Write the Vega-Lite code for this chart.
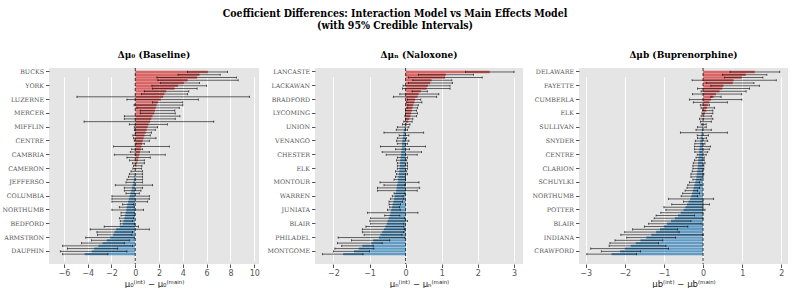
{
  "$schema": "https://vega.github.io/schema/vega-lite/v6.json",
  "padding": {"left": 2, "top": 9, "right": 0, "bottom": 0},
  "bounds": "flush",
  "title": {
    "text": ["Coefficient Differences: Interaction Model vs Main Effects Model", "(with 95% Credible Intervals)"],
    "font": "DejaVu Serif Condensed",
    "fontSize": 10.5,
    "fontWeight": "bold",
    "lineHeight": 12,
    "anchor": "middle",
    "offset": 19,
    "color": "black"
  },
  "datasets": {
    "p1": [
      {"county":"BUCKS","diff":6.1,"lo":4.4,"hi":7.76},
      {"county":"ADAMS","diff":5.4,"lo":3.6,"hi":7.14},
      {"county":"ALLEGHEN","diff":5.2,"lo":1.82,"hi":8.5},
      {"county":"BEAVER","diff":4.4,"lo":1.9,"hi":8.65},
      {"county":"BERKS","diff":4.1,"lo":2.1,"hi":5.4},
      {"county":"YORK","diff":3.6,"lo":1.4,"hi":6.0},
      {"county":"BLAIR","diff":3.3,"lo":1.46,"hi":5.2},
      {"county":"BRADFORD","diff":2.6,"lo":0.76,"hi":4.5},
      {"county":"BUTLER","diff":2.45,"lo":0.53,"hi":4.4},
      {"county":"CARBON","diff":2.35,"lo":-4.9,"hi":9.6},
      {"county":"LUZERNE","diff":2.15,"lo":-0.7,"hi":5.3},
      {"county":"CHESTER","diff":1.9,"lo":1.46,"hi":4.0},
      {"county":"CLARION","diff":1.8,"lo":-0.1,"hi":4.0},
      {"county":"CLEARFIE","diff":1.72,"lo":0.14,"hi":3.7},
      {"county":"CLINTON","diff":1.66,"lo":0.42,"hi":3.33},
      {"county":"MERCER","diff":1.6,"lo":0.42,"hi":3.36},
      {"county":"CRAWFORD","diff":1.45,"lo":-0.92,"hi":3.75},
      {"county":"CUMBERLA","diff":1.35,"lo":-0.92,"hi":3.36},
      {"county":"DELAWARE","diff":1.25,"lo":-4.3,"hi":6.6},
      {"county":"ELK","diff":1.12,"lo":-0.5,"hi":2.7},
      {"county":"MIFFLIN","diff":1.04,"lo":-0.08,"hi":1.88},
      {"county":"ERIE","diff":0.95,"lo":-0.08,"hi":1.68},
      {"county":"FAYETTE","diff":0.88,"lo":0.0,"hi":1.37},
      {"county":"FOREST","diff":0.78,"lo":-0.2,"hi":1.26},
      {"county":"FRANKLIN","diff":0.7,"lo":-0.14,"hi":1.74},
      {"county":"CENTRE","diff":0.62,"lo":-0.08,"hi":1.18},
      {"county":"FULTON","diff":0.57,"lo":0.06,"hi":0.76},
      {"county":"GREENE","diff":0.52,"lo":-1.82,"hi":2.86},
      {"county":"HUNTINGD","diff":0.46,"lo":-0.3,"hi":0.62},
      {"county":"INDIANA","diff":0.4,"lo":-0.42,"hi":1.18},
      {"county":"CAMBRIA","diff":0.34,"lo":-1.76,"hi":2.52},
      {"county":"JUNIATA","diff":0.28,"lo":-0.7,"hi":1.26},
      {"county":"LACKAWAN","diff":0.22,"lo":-0.48,"hi":0.76},
      {"county":"LANCASTE","diff":0.16,"lo":-0.22,"hi":0.76},
      {"county":"LAWRENCE","diff":0.1,"lo":-0.14,"hi":0.56},
      {"county":"CAMERON","diff":0.05,"lo":-0.2,"hi":0.53},
      {"county":"LEBANON","diff":0.02,"lo":-0.36,"hi":0.62},
      {"county":"LEHIGH","diff":-0.03,"lo":-0.5,"hi":0.62},
      {"county":"LYCOMING","diff":-0.08,"lo":-0.56,"hi":0.62},
      {"county":"MCKEAN","diff":-0.12,"lo":-0.7,"hi":0.62},
      {"county":"JEFFERSO","diff":-0.17,"lo":-0.78,"hi":0.62},
      {"county":"MONROE","diff":-0.22,"lo":-1.68,"hi":1.46},
      {"county":"MONTGOME","diff":-0.28,"lo":-0.92,"hi":0.62},
      {"county":"MONTOUR","diff":-0.33,"lo":-0.92,"hi":0.48},
      {"county":"NORTHAMP","diff":-0.4,"lo":-0.78,"hi":0.34},
      {"county":"COLUMBIA","diff":-0.47,"lo":-1.96,"hi":1.18},
      {"county":"PERRY","diff":-0.54,"lo":-1.96,"hi":1.18},
      {"county":"PHILADEL","diff":-0.6,"lo":-1.96,"hi":1.04},
      {"county":"PIKE","diff":-0.66,"lo":-1.06,"hi":-0.14},
      {"county":"POTTER","diff":-0.72,"lo":-1.34,"hi":-0.08},
      {"county":"NORTHUMB","diff":-0.75,"lo":-1.96,"hi":0.7},
      {"county":"SCHUYLKI","diff":-0.8,"lo":-1.2,"hi":-0.08},
      {"county":"SNYDER","diff":-0.86,"lo":-1.2,"hi":-0.08},
      {"county":"SOMERSET","diff":-0.92,"lo":-1.34,"hi":-0.14},
      {"county":"SULLIVAN","diff":-0.98,"lo":-1.26,"hi":-0.22},
      {"county":"BEDFORD","diff":-1.06,"lo":-1.26,"hi":-0.08},
      {"county":"SUSQUEHA","diff":-1.3,"lo":-2.61,"hi":0.28},
      {"county":"TIOGA","diff":-1.6,"lo":-3.78,"hi":1.18},
      {"county":"UNION","diff":-1.75,"lo":-3.22,"hi":-0.22},
      {"county":"VENANGO","diff":-1.85,"lo":-3.17,"hi":-0.28},
      {"county":"ARMSTRON","diff":-2.1,"lo":-4.16,"hi":-0.08},
      {"county":"WARREN","diff":-2.4,"lo":-3.67,"hi":-0.5},
      {"county":"WASHINGT","diff":-2.75,"lo":-4.51,"hi":-0.92},
      {"county":"WAYNE","diff":-3.1,"lo":-6.1,"hi":-0.22},
      {"county":"WESTMORE","diff":-3.45,"lo":-5.7,"hi":-1.48},
      {"county":"DAUPHIN","diff":-3.65,"lo":-6.3,"hi":-0.7},
      {"county":"WYOMING","diff":-4.25,"lo":-6.1,"hi":-2.3}
    ],
    "p2": [
      {"county":"LANCASTE","diff":2.33,"lo":1.66,"hi":3.0},
      {"county":"YORK","diff":1.11,"lo":0.36,"hi":1.88},
      {"county":"WYOMING","diff":1.09,"lo":0.08,"hi":2.12},
      {"county":"WESTMORE","diff":0.72,"lo":0.2,"hi":1.28},
      {"county":"WAYNE","diff":0.68,"lo":0.08,"hi":1.3},
      {"county":"LACKAWAN","diff":0.62,"lo":-0.07,"hi":1.23},
      {"county":"WASHINGT","diff":0.58,"lo":-0.09,"hi":1.23},
      {"county":"TIOGA","diff":0.42,"lo":0.18,"hi":0.6},
      {"county":"SUSQUEHA","diff":0.36,"lo":-0.16,"hi":0.92},
      {"county":"SULLIVAN","diff":0.33,"lo":-0.34,"hi":0.86},
      {"county":"BRADFORD","diff":0.26,"lo":0.05,"hi":0.42},
      {"county":"SOMERSET","diff":0.24,"lo":0.03,"hi":0.45},
      {"county":"SNYDER","diff":0.21,"lo":0.06,"hi":0.35},
      {"county":"SCHUYLKI","diff":0.19,"lo":0.04,"hi":0.33},
      {"county":"POTTER","diff":0.17,"lo":0.0,"hi":0.3},
      {"county":"LYCOMING","diff":0.15,"lo":0.0,"hi":0.33},
      {"county":"PIKE","diff":0.13,"lo":-0.02,"hi":0.3},
      {"county":"PERRY","diff":0.1,"lo":0.0,"hi":0.2},
      {"county":"NORTHUMB","diff":0.07,"lo":-0.05,"hi":0.18},
      {"county":"NORTHAMP","diff":0.03,"lo":-0.09,"hi":0.12},
      {"county":"UNION","diff":-0.03,"lo":-0.23,"hi":0.09},
      {"county":"MONROE","diff":-0.05,"lo":-0.26,"hi":0.05},
      {"county":"MIFFLIN","diff":-0.06,"lo":-0.6,"hi":0.5},
      {"county":"MERCER","diff":-0.07,"lo":-0.18,"hi":0.09},
      {"county":"MCKEAN","diff":-0.08,"lo":-0.23,"hi":0.02},
      {"county":"VENANGO","diff":-0.09,"lo":-0.25,"hi":0.09},
      {"county":"LUZERNE","diff":-0.1,"lo":-0.23,"hi":0.05},
      {"county":"LEHIGH","diff":-0.105,"lo":-0.7,"hi":0.55},
      {"county":"LEBANON","diff":-0.11,"lo":-0.28,"hi":0.11},
      {"county":"LAWRENCE","diff":-0.12,"lo":-0.65,"hi":0.44},
      {"county":"CHESTER","diff":-0.13,"lo":-0.54,"hi":0.32},
      {"county":"JEFFERSO","diff":-0.14,"lo":-0.23,"hi":0.05},
      {"county":"INDIANA","diff":-0.15,"lo":-0.25,"hi":0.03},
      {"county":"HUNTINGD","diff":-0.155,"lo":-0.23,"hi":0.05},
      {"county":"GREENE","diff":-0.16,"lo":-0.23,"hi":0.05},
      {"county":"ELK","diff":-0.17,"lo":-0.23,"hi":0.05},
      {"county":"FULTON","diff":-0.18,"lo":-0.28,"hi":0.03},
      {"county":"FRANKLIN","diff":-0.19,"lo":-0.25,"hi":0.05},
      {"county":"FOREST","diff":-0.2,"lo":-0.28,"hi":0.0},
      {"county":"FAYETTE","diff":-0.21,"lo":-0.32,"hi":0.0},
      {"county":"MONTOUR","diff":-0.22,"lo":-0.71,"hi":0.37},
      {"county":"ERIE","diff":-0.24,"lo":-0.6,"hi":-0.02},
      {"county":"DELAWARE","diff":-0.25,"lo":-0.78,"hi":0.39},
      {"county":"DAUPHIN","diff":-0.26,"lo":-0.78,"hi":0.32},
      {"county":"CUMBERLA","diff":-0.28,"lo":-0.32,"hi":-0.02},
      {"county":"WARREN","diff":-0.3,"lo":-0.37,"hi":-0.07},
      {"county":"CRAWFORD","diff":-0.32,"lo":-0.42,"hi":-0.05},
      {"county":"COLUMBIA","diff":-0.34,"lo":-0.46,"hi":-0.09},
      {"county":"CLINTON","diff":-0.36,"lo":-0.46,"hi":-0.14},
      {"county":"CLEARFIE","diff":-0.38,"lo":-0.44,"hi":-0.17},
      {"county":"JUNIATA","diff":-0.4,"lo":-0.5,"hi":-0.15},
      {"county":"CLARION","diff":-0.42,"lo":-1.06,"hi":0.34},
      {"county":"CENTRE","diff":-0.44,"lo":-0.58,"hi":-0.16},
      {"county":"CARBON","diff":-0.47,"lo":-0.97,"hi":-0.03},
      {"county":"CAMERON","diff":-0.5,"lo":-0.99,"hi":0.05},
      {"county":"BLAIR","diff":-0.52,"lo":-0.97,"hi":-0.05},
      {"county":"CAMBRIA","diff":-0.56,"lo":-1.1,"hi":-0.05},
      {"county":"BUTLER","diff":-0.6,"lo":-1.2,"hi":-0.03},
      {"county":"BUCKS","diff":-0.65,"lo":-1.2,"hi":-0.05},
      {"county":"BERKS","diff":-0.7,"lo":-1.15,"hi":-0.1},
      {"county":"PHILADEL","diff":-0.74,"lo":-1.87,"hi":-0.02},
      {"county":"BEDFORD","diff":-0.9,"lo":-1.5,"hi":-0.44},
      {"county":"BEAVER","diff":-0.95,"lo":-1.89,"hi":-0.65},
      {"county":"ARMSTRON","diff":-1.2,"lo":-1.77,"hi":-0.9},
      {"county":"ALLEGHEN","diff":-1.3,"lo":-1.96,"hi":-0.88},
      {"county":"MONTGOME","diff":-1.43,"lo":-2.0,"hi":-1.0},
      {"county":"ADAMS","diff":-1.73,"lo":-2.3,"hi":-1.18}
    ],
    "p3": [
      {"county":"DELAWARE","diff":1.32,"lo":0.69,"hi":1.96},
      {"county":"LEHIGH","diff":1.09,"lo":0.5,"hi":1.63},
      {"county":"LUZERNE","diff":0.99,"lo":0.55,"hi":1.53},
      {"county":"LYCOMING","diff":0.78,"lo":-0.28,"hi":1.87},
      {"county":"MCKEAN","diff":0.76,"lo":0.08,"hi":1.3},
      {"county":"FAYETTE","diff":0.52,"lo":0.2,"hi":1.44},
      {"county":"MERCER","diff":0.49,"lo":-0.14,"hi":1.19},
      {"county":"MIFFLIN","diff":0.42,"lo":-0.05,"hi":1.1},
      {"county":"MONROE","diff":0.33,"lo":-0.27,"hi":0.99},
      {"county":"MONTGOME","diff":0.27,"lo":0.2,"hi":0.46},
      {"county":"CUMBERLA","diff":0.2,"lo":-0.35,"hi":0.99},
      {"county":"MONTOUR","diff":0.16,"lo":-0.25,"hi":0.62},
      {"county":"NORTHAMP","diff":0.12,"lo":-0.07,"hi":0.16},
      {"county":"PERRY","diff":0.1,"lo":-0.05,"hi":0.29},
      {"county":"PHILADEL","diff":0.08,"lo":-0.01,"hi":0.25},
      {"county":"ELK","diff":0.05,"lo":-0.03,"hi":0.25},
      {"county":"PIKE","diff":0.03,"lo":-0.05,"hi":0.21},
      {"county":"SOMERSET","diff":0.02,"lo":-0.09,"hi":0.25},
      {"county":"SUSQUEHA","diff":0.01,"lo":-0.07,"hi":0.21},
      {"county":"TIOGA","diff":-0.01,"lo":-0.05,"hi":0.08},
      {"county":"SULLIVAN","diff":-0.02,"lo":-0.14,"hi":0.08},
      {"county":"UNION","diff":-0.03,"lo":-0.18,"hi":0.21},
      {"county":"VENANGO","diff":-0.04,"lo":-0.58,"hi":0.62},
      {"county":"WARREN","diff":-0.05,"lo":-0.15,"hi":0.14},
      {"county":"WASHINGT","diff":-0.06,"lo":-0.14,"hi":0.09},
      {"county":"SNYDER","diff":-0.07,"lo":-0.2,"hi":0.12},
      {"county":"WAYNE","diff":-0.078,"lo":-0.21,"hi":0.05},
      {"county":"WESTMORE","diff":-0.086,"lo":-0.22,"hi":0.19},
      {"county":"WYOMING","diff":-0.094,"lo":-0.22,"hi":0.16},
      {"county":"YORK","diff":-0.102,"lo":-0.21,"hi":0.12},
      {"county":"CENTRE","diff":-0.11,"lo":-0.15,"hi":0.08},
      {"county":"ADAMS","diff":-0.116,"lo":-0.18,"hi":0.03},
      {"county":"ALLEGHEN","diff":-0.122,"lo":-0.22,"hi":0.03},
      {"county":"ARMSTRON","diff":-0.128,"lo":-0.25,"hi":0.05},
      {"county":"BEAVER","diff":-0.134,"lo":-0.26,"hi":0.02},
      {"county":"CLARION","diff":-0.14,"lo":-0.26,"hi":0.02},
      {"county":"BEDFORD","diff":-0.15,"lo":-0.28,"hi":0.0},
      {"county":"BERKS","diff":-0.16,"lo":-0.31,"hi":0.02},
      {"county":"BRADFORD","diff":-0.17,"lo":-0.31,"hi":0.0},
      {"county":"BUCKS","diff":-0.185,"lo":-0.26,"hi":-0.05},
      {"county":"SCHUYLKI","diff":-0.2,"lo":-0.35,"hi":-0.09},
      {"county":"BUTLER","diff":-0.22,"lo":-0.39,"hi":-0.05},
      {"county":"CAMBRIA","diff":-0.24,"lo":-0.41,"hi":-0.09},
      {"county":"CAMERON","diff":-0.26,"lo":-0.46,"hi":-0.14},
      {"county":"CARBON","diff":-0.28,"lo":-0.52,"hi":-0.09},
      {"county":"NORTHUMB","diff":-0.3,"lo":-0.56,"hi":-0.14},
      {"county":"CHESTER","diff":-0.33,"lo":-0.88,"hi":0.27},
      {"county":"CLEARFIE","diff":-0.37,"lo":-0.5,"hi":0.0},
      {"county":"CLINTON","diff":-0.41,"lo":-0.8,"hi":0.16},
      {"county":"COLUMBIA","diff":-0.45,"lo":-1.0,"hi":0.0},
      {"county":"POTTER","diff":-0.5,"lo":-0.95,"hi":0.05},
      {"county":"DAUPHIN","diff":-0.57,"lo":-1.08,"hi":0.0},
      {"county":"ERIE","diff":-0.64,"lo":-1.2,"hi":-0.22},
      {"county":"FOREST","diff":-0.72,"lo":-1.25,"hi":0.0},
      {"county":"FRANKLIN","diff":-0.82,"lo":-1.31,"hi":-0.31},
      {"county":"BLAIR","diff":-0.92,"lo":-1.39,"hi":-0.05},
      {"county":"FULTON","diff":-1.0,"lo":-1.5,"hi":-0.39},
      {"county":"GREENE","diff":-1.1,"lo":-1.8,"hi":-0.65},
      {"county":"HUNTINGD","diff":-1.2,"lo":-2.0,"hi":-0.61},
      {"county":"JEFFERSO","diff":-1.32,"lo":-2.1,"hi":0.0},
      {"county":"INDIANA","diff":-1.45,"lo":-1.95,"hi":-0.7},
      {"county":"JUNIATA","diff":-1.6,"lo":-2.25,"hi":-1.03},
      {"county":"LACKAWAN","diff":-1.72,"lo":-2.38,"hi":-1.14},
      {"county":"LANCASTE","diff":-1.85,"lo":-2.4,"hi":-0.95},
      {"county":"LAWRENCE","diff":-2.0,"lo":-2.87,"hi":-0.88},
      {"county":"CRAWFORD","diff":-2.12,"lo":-2.6,"hi":-1.6},
      {"county":"LEBANON","diff":-2.34,"lo":-2.97,"hi":-1.7}
    ]
  },
  "hconcat": [
    {
      "width": 210, "height": 196,
      "title": {"text": "Δμ₀ (Baseline)"},
      "data": {"name": "p1"},
      "layer": [
        {
          "mark": {"type": "bar", "opacity": 0.68},
          "encoding": {
            "y": {"field": "county", "type": "nominal", "sort": {"field": "diff", "op": "sum", "order": "descending"}, "scale": {"range": [2.8, 187.3], "paddingInner": 0.15, "paddingOuter": 0}, "axis": {"title": null, "values": ["BUCKS","YORK","LUZERNE","MERCER","MIFFLIN","CENTRE","CAMBRIA","CAMERON","JEFFERSO","COLUMBIA","NORTHUMB","BEDFORD","ARMSTRON","DAUPHIN"]}},
            "x": {"field": "diff", "type": "quantitative", "scale": {"domain": [-7.25, 10.4], "nice": false, "zero": false}, "axis": {"values": [-6,-4,-2,0,2,4,6,8,10], "labelOverlap": false, "title": "μ₀⁽ⁱⁿᵗ⁾ − μ₀⁽ᵐᵃⁱⁿ⁾"}},
            "color": {"condition": {"test": "datum.diff > 0", "value": "#d62728"}, "value": "#1f77b4"}
          }
        },
        {
          "mark": {"type": "rule", "color": "black", "opacity": 0.75, "strokeWidth": 0.8},
          "encoding": {
            "y": {"field": "county", "type": "nominal", "sort": {"field": "diff", "op": "sum", "order": "descending"}},
            "x": {"field": "lo", "type": "quantitative", "axis": {"values": [-6,-4,-2,0,2,4,6,8,10], "labelOverlap": false, "title": "μ₀⁽ⁱⁿᵗ⁾ − μ₀⁽ᵐᵃⁱⁿ⁾"}},
            "x2": {"field": "hi"}
          }
        },
        {
          "mark": {"type": "tick", "color": "black", "opacity": 0.75, "size": 2.2, "thickness": 0.8, "orient": "vertical"},
          "encoding": {
            "y": {"field": "county", "type": "nominal", "sort": {"field": "diff", "op": "sum", "order": "descending"}},
            "x": {"field": "lo", "type": "quantitative", "axis": {"values": [-6,-4,-2,0,2,4,6,8,10], "labelOverlap": false, "title": "μ₀⁽ⁱⁿᵗ⁾ − μ₀⁽ᵐᵃⁱⁿ⁾"}}
          }
        },
        {
          "mark": {"type": "tick", "color": "black", "opacity": 0.75, "size": 2.2, "thickness": 0.8, "orient": "vertical"},
          "encoding": {
            "y": {"field": "county", "type": "nominal", "sort": {"field": "diff", "op": "sum", "order": "descending"}},
            "x": {"field": "hi", "type": "quantitative", "axis": {"values": [-6,-4,-2,0,2,4,6,8,10], "labelOverlap": false, "title": "μ₀⁽ⁱⁿᵗ⁾ − μ₀⁽ᵐᵃⁱⁿ⁾"}}
          }
        },
        {
          "data": {"values": [{}]},
          "mark": {"type": "rule", "color": "black", "strokeDash": [3, 2], "strokeWidth": 0.9, "opacity": 0.85},
          "encoding": {"x": {"datum": 0, "type": "quantitative", "axis": {"values": [-6,-4,-2,0,2,4,6,8,10], "labelOverlap": false, "title": "μ₀⁽ⁱⁿᵗ⁾ − μ₀⁽ᵐᵃⁱⁿ⁾"}}}
        }
      ]
    },
    {
      "width": 208, "height": 196,
      "title": {"text": "Δμₙ (Naloxone)"},
      "data": {"name": "p2"},
      "layer": [
        {
          "mark": {"type": "bar", "opacity": 0.68},
          "encoding": {
            "y": {"field": "county", "type": "nominal", "sort": {"field": "diff", "op": "sum", "order": "descending"}, "scale": {"range": [2.8, 187.3], "paddingInner": 0.15, "paddingOuter": 0}, "axis": {"title": null, "values": ["LANCASTE","LACKAWAN","BRADFORD","LYCOMING","UNION","VENANGO","CHESTER","ELK","MONTOUR","WARREN","JUNIATA","BLAIR","PHILADEL","MONTGOME"]}},
            "x": {"field": "diff", "type": "quantitative", "scale": {"domain": [-2.51, 3.25], "nice": false, "zero": false}, "axis": {"values": [-2,-1,0,1,2,3], "labelOverlap": false, "title": "μₙ⁽ⁱⁿᵗ⁾ − μₙ⁽ᵐᵃⁱⁿ⁾"}},
            "color": {"condition": {"test": "datum.diff > 0", "value": "#d62728"}, "value": "#1f77b4"}
          }
        },
        {
          "mark": {"type": "rule", "color": "black", "opacity": 0.75, "strokeWidth": 0.8},
          "encoding": {
            "y": {"field": "county", "type": "nominal", "sort": {"field": "diff", "op": "sum", "order": "descending"}},
            "x": {"field": "lo", "type": "quantitative"},
            "x2": {"field": "hi"}
          }
        },
        {
          "mark": {"type": "tick", "color": "black", "opacity": 0.75, "size": 2.2, "thickness": 0.8, "orient": "vertical"},
          "encoding": {
            "y": {"field": "county", "type": "nominal", "sort": {"field": "diff", "op": "sum", "order": "descending"}},
            "x": {"field": "lo", "type": "quantitative"}
          }
        },
        {
          "mark": {"type": "tick", "color": "black", "opacity": 0.75, "size": 2.2, "thickness": 0.8, "orient": "vertical"},
          "encoding": {
            "y": {"field": "county", "type": "nominal", "sort": {"field": "diff", "op": "sum", "order": "descending"}},
            "x": {"field": "hi", "type": "quantitative"}
          }
        },
        {
          "data": {"values": [{}]},
          "mark": {"type": "rule", "color": "black", "strokeDash": [3, 2], "strokeWidth": 0.9, "opacity": 0.85},
          "encoding": {"x": {"datum": 0}}
        }
      ]
    },
    {
      "width": 209, "height": 196,
      "title": {"text": "Δμb (Buprenorphine)"},
      "data": {"name": "p3"},
      "layer": [
        {
          "mark": {"type": "bar", "opacity": 0.68},
          "encoding": {
            "y": {"field": "county", "type": "nominal", "sort": {"field": "diff", "op": "sum", "order": "descending"}, "scale": {"range": [2.8, 187.3], "paddingInner": 0.15, "paddingOuter": 0}, "axis": {"title": null, "values": ["DELAWARE","FAYETTE","CUMBERLA","ELK","SULLIVAN","SNYDER","CENTRE","CLARION","SCHUYLKI","NORTHUMB","POTTER","BLAIR","INDIANA","CRAWFORD"]}},
            "x": {"field": "diff", "type": "quantitative", "scale": {"domain": [-3.17, 2.17], "nice": false, "zero": false}, "axis": {"values": [-3,-2,-1,0,1,2], "labelOverlap": false, "title": "μb⁽ⁱⁿᵗ⁾ − μb⁽ᵐᵃⁱⁿ⁾"}},
            "color": {"condition": {"test": "datum.diff > 0", "value": "#d62728"}, "value": "#1f77b4"}
          }
        },
        {
          "mark": {"type": "rule", "color": "black", "opacity": 0.75, "strokeWidth": 0.8},
          "encoding": {
            "y": {"field": "county", "type": "nominal", "sort": {"field": "diff", "op": "sum", "order": "descending"}},
            "x": {"field": "lo", "type": "quantitative"},
            "x2": {"field": "hi"}
          }
        },
        {
          "mark": {"type": "tick", "color": "black", "opacity": 0.75, "size": 2.2, "thickness": 0.8, "orient": "vertical"},
          "encoding": {
            "y": {"field": "county", "type": "nominal", "sort": {"field": "diff", "op": "sum", "order": "descending"}},
            "x": {"field": "lo", "type": "quantitative"}
          }
        },
        {
          "mark": {"type": "tick", "color": "black", "opacity": 0.75, "size": 2.2, "thickness": 0.8, "orient": "vertical"},
          "encoding": {
            "y": {"field": "county", "type": "nominal", "sort": {"field": "diff", "op": "sum", "order": "descending"}},
            "x": {"field": "hi", "type": "quantitative"}
          }
        },
        {
          "data": {"values": [{}]},
          "mark": {"type": "rule", "color": "black", "strokeDash": [3, 2], "strokeWidth": 0.9, "opacity": 0.85},
          "encoding": {"x": {"datum": 0}}
        }
      ]
    }
  ],
  "config": {
    "background": "white",
    "view": {"fill": "#E5E5E5", "stroke": null},
    "concat": {"spacing": 56},
    "axis": {"gridColor": "white", "gridWidth": 1, "domain": false, "tickColor": "#555555", "tickSize": 3.5, "labelColor": "#555555", "titleColor": "#222222", "labelFont": "DejaVu Sans", "titleFont": "DejaVu Sans", "titleFontWeight": "normal", "labelOverlap": false},
    "axisY": {"labelFont": "DejaVu Serif", "labelFontSize": 6.3, "labelPadding": 2},
    "axisX": {"labelFontSize": 8, "titleFontSize": 8.5, "titlePadding": 2, "labelPadding": 2},
    "title": {"font": "DejaVu Serif", "fontWeight": "bold", "fontSize": 9, "color": "black", "offset": 8}
  }
}
